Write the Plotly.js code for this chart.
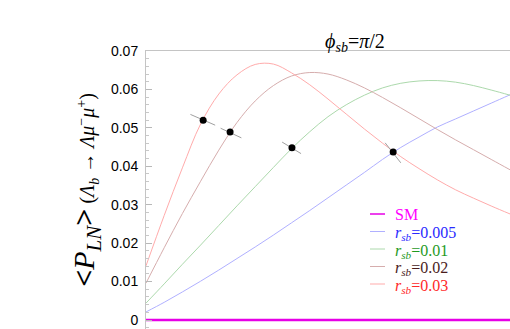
<!DOCTYPE html>
<html>
<head>
<meta charset="utf-8">
<script src="https://cdn.plot.ly/plotly-3.0.1.min.js"></script>
<style>
  body { margin: 0; padding: 0; background: #fff; }
  #chart { width: 510px; height: 329px; }
</style>
</head>
<body>
<div id="chart"></div>
<script>
// x position along the plot (0 = left edge, 1 = right edge of the picture)
var xGrid = [0, 0.05, 0.1, 0.15, 0.2, 0.25, 0.3, 0.35, 0.4, 0.45, 0.5,
             0.55, 0.6, 0.65, 0.7, 0.75, 0.8, 0.85, 0.9, 0.95, 1];

// <P_LN> for each r_sb
var smY = [0, 0, 0, 0, 0, 0, 0, 0, 0, 0, 0, 0, 0, 0, 0, 0, 0, 0, 0, 0, 0];
var r005Y = [0.0021, 0.0046, 0.0073, 0.0101, 0.0130, 0.0160, 0.0190, 0.0221, 0.0253, 0.0285, 0.0318,
             0.0351, 0.0384, 0.0418, 0.0449, 0.0476, 0.0502, 0.0523, 0.0544, 0.0565, 0.0586];
var r01Y = [0.0044, 0.0094, 0.0145, 0.0195, 0.0246, 0.0297, 0.0347, 0.0397, 0.0446, 0.0490, 0.0529,
            0.0560, 0.0585, 0.0604, 0.0616, 0.0622, 0.0623, 0.0619, 0.0610, 0.0598, 0.0585];
var r02Y = [0.0096, 0.0188, 0.0277, 0.0361, 0.0442, 0.0514, 0.0570, 0.0610, 0.0635, 0.0644, 0.0640,
            0.0625, 0.0604, 0.0579, 0.0552, 0.0524, 0.0496, 0.0469, 0.0443, 0.0417, 0.0391];
var r03Y = [0.0141, 0.0272, 0.0396, 0.0510, 0.0588, 0.0638, 0.0665, 0.0666, 0.0643, 0.0612, 0.0575,
            0.0536, 0.0497, 0.0460, 0.0425, 0.0394, 0.0365, 0.0339, 0.0317, 0.0296, 0.0276];

// marked points on each curve and the short grey strokes through them
var dotX = [0.157, 0.231, 0.401, 0.679];
var dotY = [0.0520, 0.0489, 0.0448, 0.0437];
var strokeX0 = [0.122, 0.205, 0.374, 0.657];
var strokeX1 = [0.190, 0.262, 0.426, 0.700];
var strokeY0 = [0.0535, 0.0499, 0.0463, 0.0461];
var strokeY1 = [0.0507, 0.0474, 0.0433, 0.0409];

// legend rows
var legendNames = ['SM', '<i>r</i><sub><i>sb</i></sub>=0.005', '<i>r</i><sub><i>sb</i></sub>=0.01',
                   '<i>r</i><sub><i>sb</i></sub>=0.02', '<i>r</i><sub><i>sb</i></sub>=0.03'];
var lineColors = ['#e600e6', '#b0b0ff', '#acd9ac', '#d6adad', '#ffabab'];
var textColors = ['#ff00ff', '#2b2bff', '#1f9a1f', '#4a1c1c', '#ff2a2a'];
var seriesY = [smY, r005Y, r01Y, r02Y, r03Y];

// plotly v3 takes one family name here
var serif = 'Liberation Serif';

var data = [];
for (var s = 0; s < seriesY.length; s++) {
  data.push({
    x: xGrid, y: seriesY[s], name: legendNames[s], type: 'scatter', mode: 'lines',
    line: {color: lineColors[s], width: s === 0 ? 2.5 : 1, shape: 'spline'},
    showlegend: false, hoverinfo: 'skip'
  });
}

var strokeXs = [], strokeYs = [];
for (var i = 0; i < dotX.length; i++) {
  strokeXs.push(strokeX0[i], strokeX1[i], null);
  strokeYs.push(strokeY0[i], strokeY1[i], null);
}
data.push({
  x: strokeXs, y: strokeYs, type: 'scatter', mode: 'lines',
  line: {color: '#a0a0a0', width: 1}, showlegend: false, hoverinfo: 'skip'
});
data.push({
  x: dotX, y: dotY, type: 'scatter', mode: 'markers',
  marker: {color: '#000', size: 7}, showlegend: false, hoverinfo: 'skip'
});

// hand-placed legend (rows 17.5px apart, starting at 214px from the top)
var annotations = [], shapes = [];
for (var k = 0; k < legendNames.length; k++) {
  var yp = (329 - (214 + 17.5 * k)) / 278;
  shapes.push({
    type: 'line', xref: 'paper', yref: 'paper',
    x0: 0.6154, x1: 0.6566, y0: yp, y1: yp,
    line: {color: lineColors[k], width: k === 0 ? 1.5 : 1}
  });
  annotations.push({
    xref: 'paper', yref: 'paper', x: 0.6786, y: yp + (k === 0 ? 0 : -0.008),
    xanchor: 'left', yanchor: 'middle', showarrow: false,
    text: legendNames[k],
    font: {family: serif, size: 16, color: textColors[k]}
  });
}

var layout = {
  width: 510,
  height: 329,
  margin: {l: 146, r: 0, t: 51, b: 0},
  paper_bgcolor: '#fff',
  plot_bgcolor: '#fff',
  showlegend: false,
  title: {
    text: '<i>ϕ</i><sub><i>sb</i></sub>=<i>π</i>/2',
    font: {family: serif, size: 20, color: '#000'},
    xref: 'paper', x: 0.574, xanchor: 'center',
    yref: 'paper', y: 1, yanchor: 'bottom',
    pad: {b: 3}
  },
  xaxis: {
    range: [0, 1],
    side: 'top',
    showline: true, linecolor: '#c4c4c4', linewidth: 1,
    showgrid: false, zeroline: false,
    ticks: '', showticklabels: false
  },
  yaxis: {
    range: [-0.00234, 0.07],
    tick0: 0, dtick: 0.01,
    ticks: 'inside', ticklen: 6, tickcolor: '#b8b8b8', tickwidth: 1,
    minor: {dtick: 0.002, ticks: 'inside', ticklen: 3, tickcolor: '#c8c8c8'},
    showline: true, linecolor: '#c4c4c4', linewidth: 1,
    showgrid: false, zeroline: false,
    tickfont: {family: 'Liberation Sans', size: 14, color: '#000'},
    ticklabelstandoff: 4,
    title: {
      text: '<span style="font-size:30px"><b>&lt;</b><i>P</i><sub><i>LN</i></sub><b>&gt;</b></span>' +
            ' (<i>Λ</i><sub><i>b</i></sub> → <i>Λμ</i><sup>−</sup><i>μ</i><sup>+</sup>)',
      font: {family: serif, size: 20, color: '#000'},
      standoff: 10
    }
  },
  annotations: annotations,
  shapes: shapes
};

Plotly.newPlot('chart', data, layout, {staticPlot: true});
</script>
</body>
</html>
